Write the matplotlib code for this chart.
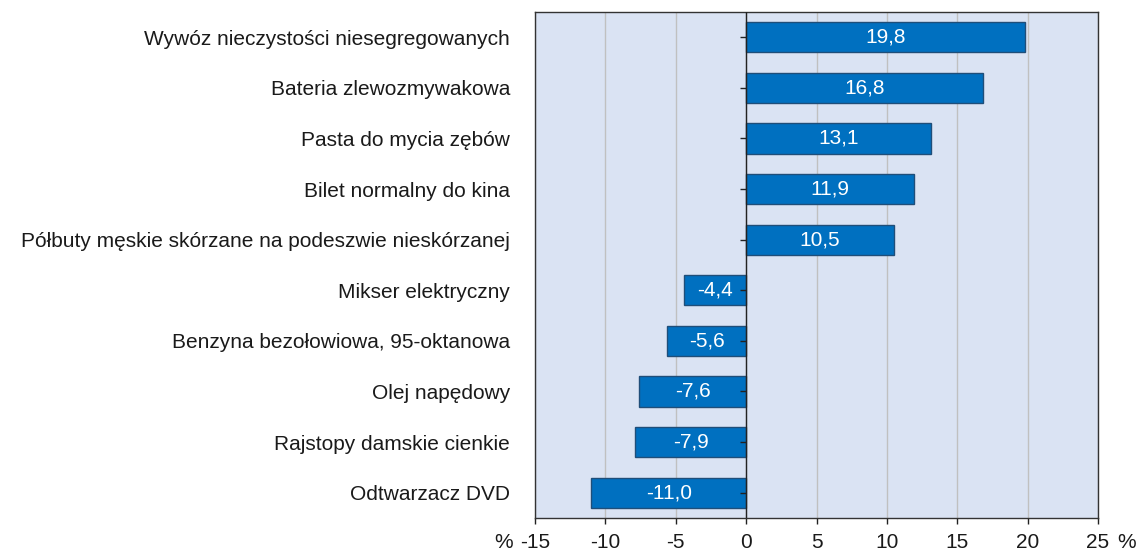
import matplotlib
matplotlib.use("Agg")
import matplotlib.pyplot as plt

plt.rcParams['font.family'] = ['Liberation Sans', 'DejaVu Sans']

categories = [
    "Wywóz nieczystości niesegregowanych",
    "Bateria zlewozmywakowa",
    "Pasta do mycia zębów",
    "Bilet normalny do kina",
    "Półbuty męskie skórzane na podeszwie nieskórzanej",
    "Mikser elektryczny",
    "Benzyna bezołowiowa, 95-oktanowa",
    "Olej napędowy",
    "Rajstopy damskie cienkie",
    "Odtwarzacz DVD",
]
values = [19.8, 16.8, 13.1, 11.9, 10.5, -4.4, -5.6, -7.6, -7.9, -11.0]
xticks = [-15, -10, -5, 0, 5, 10, 15, 20, 25]

FS = 15
TXT = '#1a1a1a'

fig = plt.figure(figsize=(11.4, 5.54), dpi=100)
ax = fig.add_axes([535/1140, 1 - 518/554, (1098-535)/1140, (518-12)/554])
ax.set_facecolor('#dae3f3')

ypos = list(range(len(categories)))
ax.barh(ypos, values, height=0.6, color='#0070c0', edgecolor='#1f4e79', linewidth=1, zorder=3)

for y, v in zip(ypos, values):
    ax.text(v / 2, y, f"{v:.1f}".replace('.', ','), color='white', fontsize=FS,
            ha='center', va='center', zorder=4)

# zero line with small ticks pointing left
ax.axvline(0, color='#222222', linewidth=1, zorder=5)
ax.plot([0] * len(ypos), ypos, linestyle='none', marker=0, markersize=4.5,
        color='#222222', markeredgewidth=1, zorder=5)

ax.set_xlim(-15, 25)
ax.set_ylim(len(categories) - 0.5, -0.5)
ax.set_xticks(xticks)
ax.set_xticklabels([str(t) for t in xticks], fontsize=FS, color=TXT)
ax.set_yticks(ypos)
ax.set_yticklabels(categories, fontsize=FS, color=TXT)
ax.tick_params(axis='y', length=0, pad=18)
ax.tick_params(axis='x', length=4.5, width=1, color='#222222', pad=6)
ax.xaxis.grid(True, color='#c0c0c0', linewidth=1, zorder=1)
ax.set_axisbelow(True)
for s in ax.spines.values():
    s.set_color('#333333')
    s.set_linewidth(1)

# percent signs at both ends of the x axis
ax.annotate("%", xy=(0, 0), xycoords='axes fraction', xytext=(-22, -15),
            textcoords='offset pixels', ha='right', va='top', fontsize=FS, color=TXT)
ax.annotate("%", xy=(1, 0), xycoords='axes fraction', xytext=(19, -15),
            textcoords='offset pixels', ha='left', va='top', fontsize=FS, color=TXT)

fig.savefig("out.png", dpi=100)
